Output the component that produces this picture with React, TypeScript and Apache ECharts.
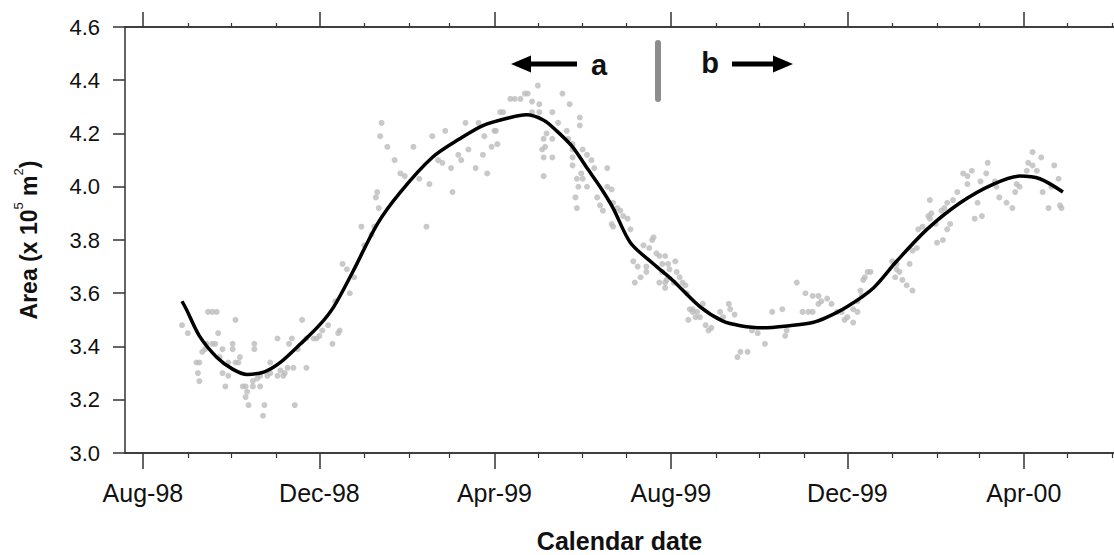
import React, { useEffect, useRef } from "react";
import * as echarts from "echarts";

// ---------- Data (x = days since 1 Aug 1998, y = area in 10^5 m^2) ----------
const majorTickLabels = ["Aug-98", "Dec-98", "Apr-99", "Aug-99", "Dec-99", "Apr-00"];
const majorTickDates = ["1998-08-01", "1998-12-01", "1999-04-01", "1999-08-01", "1999-12-01", "2000-04-01"];
const minorTickDates = [
  "1998-09-01", "1998-10-01", "1998-11-01", "1999-01-01", "1999-02-01", "1999-03-01",
  "1999-05-01", "1999-06-01", "1999-07-01", "1999-09-01", "1999-10-01", "1999-11-01",
  "2000-01-01", "2000-02-01", "2000-03-01", "2000-05-01", "2000-06-01",
];
const yTickValues = [3.0, 3.2, 3.4, 3.6, 3.8, 4.0, 4.2, 4.4, 4.6];

const scatterDays = [
  27, 31, 37, 38, 39, 39, 41, 43, 44, 45, 48, 48, 50, 51, 52, 53, 55, 55, 57, 59, 59, 62, 62, 64, 64, 66, 67, 69, 71, 71,
  72, 73, 76, 76, 77, 77, 79, 81, 81, 83, 84, 86, 88, 88, 93, 93, 95, 97, 98, 100, 101, 103, 104, 105, 107, 110, 113, 113, 118, 120,
  122, 124, 128, 131, 133, 135, 136, 138, 141, 143, 146, 151, 153, 158, 160, 161, 162, 163, 164, 165, 169, 174, 178, 181,
  187, 191, 196, 198, 200, 204, 207, 209, 213, 214, 218, 220, 223, 225, 230, 232, 235, 236, 238, 241, 243, 244, 245, 247, 249, 254,
  257, 261, 264, 266, 269, 269, 273, 274, 274, 276, 277, 277, 277, 278, 279, 283, 283, 283, 287, 290, 293, 294, 295, 297, 297, 297,
  297, 299, 300, 300, 301, 302, 302, 303, 304, 304, 307, 307, 310, 312, 314, 316, 318, 321, 321, 324, 324, 325, 325, 328, 330, 332,
  335, 337, 339, 340, 342, 344, 346, 348, 348, 350, 352, 353, 355, 357, 357, 359, 359, 361, 361, 361, 362, 363, 364, 367, 368, 369,
  371, 373, 375, 376, 377, 378, 380, 380, 382, 383, 385, 387, 389, 391, 393, 399, 401, 405, 406, 409, 411, 413, 418, 421, 425, 430,
  435, 442, 444, 445, 452, 456, 458, 460, 463, 463, 467, 467, 469, 473, 476, 480, 483, 485, 487, 491, 491, 494, 494, 496, 497, 498,
  499, 501, 503, 518, 520, 521, 521, 523, 525, 528, 530, 532, 532, 535, 536, 539, 543, 544, 544, 545, 548, 549, 552, 553, 554, 556,
  556, 558, 560, 563, 567, 570, 570, 573, 575, 577, 579, 580, 583, 584, 589, 590, 592, 597, 601, 603, 604, 606, 611, 612, 615, 615,
  618, 621, 622, 626, 628, 630, 633, 634, 635,
];
const scatterArea = [
  3.48, 3.45, 3.34, 3.30, 3.34, 3.27, 3.38, 3.39, 3.41, 3.53, 3.53, 3.41, 3.41, 3.53, 3.45, 3.36, 3.39, 3.30, 3.25, 3.34, 3.29, 3.41, 3.39, 3.50, 3.34, 3.34, 3.36, 3.25, 3.25, 3.21,
  3.23, 3.18, 3.27, 3.25, 3.41, 3.39, 3.28, 3.25, 3.29, 3.14, 3.18, 3.29, 3.30, 3.34, 3.29, 3.43, 3.31, 3.29, 3.30, 3.32, 3.41, 3.43, 3.32, 3.18, 3.39, 3.50, 3.32, 3.43, 3.43, 3.43,
  3.44, 3.46, 3.48, 3.41, 3.57, 3.45, 3.46, 3.71, 3.69, 3.60, 3.66, 3.85, 3.78, 3.82, 3.85, 3.96, 3.98, 3.92, 4.19, 4.24, 4.15, 4.10, 4.05, 4.04,
  4.15, 4.03, 3.85, 4.01, 4.19, 4.10, 4.09, 4.21, 4.07, 3.98, 4.12, 4.10, 4.24, 4.14, 4.07, 4.24, 4.12, 4.19, 4.05, 4.15, 4.21, 4.21, 4.16, 4.28, 4.28, 4.33,
  4.33, 4.33, 4.35, 4.35, 4.32, 4.28, 4.38, 4.31, 4.28, 4.14, 4.18, 4.11, 4.04, 4.15, 4.20, 4.11, 4.18, 4.28, 4.24, 4.35, 4.21, 4.18, 4.31, 4.16, 4.14, 4.11,
  4.08, 3.96, 4.03, 3.92, 4.00, 4.26, 4.23, 4.05, 4.14, 4.03, 4.12, 4.00, 4.10, 4.07, 3.96, 3.93, 3.91, 4.07, 4.00, 3.99, 3.86, 3.94, 3.85, 3.92, 3.91, 3.89,
  3.88, 3.84, 3.72, 3.64, 3.70, 3.66, 3.78, 3.68, 3.70, 3.77, 3.80, 3.81, 3.75, 3.74, 3.64, 3.68, 3.71, 3.62, 3.74, 3.64, 3.65, 3.71, 3.69, 3.64, 3.72, 3.68,
  3.66, 3.64, 3.63, 3.60, 3.50, 3.54, 3.54, 3.53, 3.51, 3.53, 3.51, 3.56, 3.48, 3.46, 3.47, 3.53, 3.51, 3.56, 3.54, 3.52, 3.36, 3.38, 3.38, 3.46, 3.45, 3.41,
  3.53, 3.54, 3.44, 3.46, 3.64, 3.53, 3.60, 3.53, 3.59, 3.53, 3.59, 3.56, 3.57, 3.58, 3.56, 3.53, 3.53, 3.50, 3.51, 3.49, 3.54, 3.57, 3.53, 3.61, 3.59, 3.65,
  3.66, 3.68, 3.68, 3.72, 3.66, 3.69, 3.71, 3.68, 3.65, 3.63, 3.71, 3.76, 3.61, 3.77, 3.84, 3.85, 3.89, 3.88, 3.95, 3.90, 3.86, 3.79, 3.91, 3.80, 3.92, 3.94,
  3.84, 3.86, 3.95, 3.98, 4.05, 4.04, 4.01, 4.06, 3.88, 3.94, 4.02, 3.89, 4.05, 4.09, 4.02, 4.00, 3.96, 3.94, 3.92, 3.98, 4.01, 4.00, 4.06, 4.09, 4.08, 4.13,
  4.06, 4.11, 3.98, 3.92, 4.00, 4.08, 4.03, 3.93, 3.92,
];

const fitDays = [
  27, 30, 39, 51, 62, 72, 84, 95, 109, 122, 132, 145, 162, 178, 200, 219, 235, 254, 265, 277, 286, 297,
  307, 316, 325, 337, 353, 366, 385, 401, 413, 428, 447, 463, 473, 487, 505, 521, 542, 565, 588, 606, 620, 636,
];
const fitArea = [
  3.57, 3.54, 3.44, 3.36, 3.315, 3.295, 3.305, 3.34, 3.41, 3.48, 3.55, 3.68, 3.86, 3.98, 4.11, 4.18, 4.23, 4.26, 4.27, 4.25, 4.21, 4.15,
  4.07, 4.00, 3.92, 3.79, 3.71, 3.65, 3.55, 3.495, 3.478, 3.47, 3.478, 3.49, 3.51, 3.55, 3.62, 3.72, 3.84, 3.94, 4.01, 4.04, 4.03, 3.98,
];

// ---------- helpers ----------
const DAY_MS = 86400000;
const BASE = Date.parse("1998-08-01");
const toDay = (s: string) => (Date.parse(s) - BASE) / DAY_MS;
const majorDays = majorTickDates.map(toDay);
const minorDays = minorTickDates.map(toDay);

const FONT = '"Liberation Sans", Arial, Helvetica, sans-serif';
const AXIS_COLOR = "#333333";
const X_MIN = -12.4;
const X_MAX = 671.3;

function labelFor(v: number): string {
  for (let i = 0; i < majorDays.length; i++) {
    if (Math.abs(majorDays[i] - v) < 0.5) return majorTickLabels[i];
  }
  return "";
}

function xAxisBase(position: "top" | "bottom") {
  return {
    type: "value" as const,
    position,
    min: X_MIN,
    max: X_MAX,
    splitLine: { show: false },
    axisLine: { show: true, onZero: false, lineStyle: { color: AXIS_COLOR, width: 1.5 } },
  };
}

export default function App() {
  const ref = useRef<HTMLDivElement>(null);

  useEffect(() => {
    if (!ref.current) return;
    const chart = echarts.init(ref.current, undefined, { renderer: "svg" });

    const option: any = {
      animation: false,
      backgroundColor: "#ffffff",
      grid: { left: 125, top: 27, right: 0, bottom: 102, containLabel: false, outerBoundsMode: "none" },
      xAxis: [
        {
          ...xAxisBase("bottom"),
          axisTick: { show: true, inside: false, length: 16, customValues: majorDays, lineStyle: { color: AXIS_COLOR, width: 1.5 } },
          axisLabel: {
            show: true,
            customValues: majorDays,
            formatter: (v: number) => labelFor(v),
            fontSize: 25,
            fontFamily: FONT,
            color: "#111",
            margin: 27,
          },
          name: "Calendar date",
          nameLocation: "middle",
          nameGap: 79,
          nameTextStyle: { fontSize: 25, fontWeight: "bold", fontFamily: FONT, color: "#111", lineHeight: 18 },
        },
        {
          ...xAxisBase("bottom"),
          axisTick: { show: true, inside: false, length: 5, customValues: minorDays, lineStyle: { color: AXIS_COLOR, width: 1.2 } },
          axisLabel: { show: false },
        },
        {
          ...xAxisBase("top"),
          axisTick: { show: true, inside: false, length: 15, customValues: majorDays, lineStyle: { color: AXIS_COLOR, width: 1.5 } },
          axisLabel: { show: false },
        },
        {
          ...xAxisBase("top"),
          axisTick: { show: true, inside: false, length: 4, customValues: minorDays, lineStyle: { color: AXIS_COLOR, width: 1.2 } },
          axisLabel: { show: false },
        },
      ],
      yAxis: {
        type: "value",
        position: "left",
        min: yTickValues[0],
        max: yTickValues[yTickValues.length - 1],
        interval: 0.2,
        splitLine: { show: false },
        axisLine: { show: true, onZero: false, lineStyle: { color: AXIS_COLOR, width: 1.5 } },
        axisTick: { show: true, inside: false, length: 12, lineStyle: { color: AXIS_COLOR, width: 1.5 } },
        axisLabel: {
          formatter: (v: number) => v.toFixed(1),
          fontSize: 22,
          fontFamily: FONT,
          color: "#111",
          margin: 25,
        },
        name: "{m|Area (x 10}{s|5}{m| m}{s|2}{m|)}",
        nameLocation: "middle",
        nameRotate: 90,
        nameGap: 79,
        nameTextStyle: {
          rich: {
            m: { fontSize: 23, fontWeight: "bold", fontFamily: FONT, color: "#111", lineHeight: 34 },
            s: { fontSize: 13, fontFamily: FONT, color: "#111", lineHeight: 12, verticalAlign: "top" },
          },
        },
      },
      series: [
        {
          name: "Observed area",
          type: "scatter",
          xAxisIndex: 0,
          yAxisIndex: 0,
          data: scatterDays.map((d, i) => [d, scatterArea[i]]),
          symbol: "circle",
          symbolSize: 6,
          itemStyle: { color: "#bcbcbc" },
          z: 2,
        },
        {
          name: "Fit",
          type: "line",
          xAxisIndex: 0,
          yAxisIndex: 0,
          data: fitDays.map((d, i) => [d, fitArea[i]]),
          smooth: 0.3,
          showSymbol: false,
          symbol: "none",
          lineStyle: { color: "#000", width: 3.5 },
          z: 3,
        },
      ],
      graphic: [
        // left arrow "a"
        { type: "polygon", shape: { points: [[511, 64], [531, 55.5], [531, 72.5]] }, style: { fill: "#000" } },
        { type: "rect", shape: { x: 528, y: 61.5, width: 49, height: 5 }, style: { fill: "#000" } },
        {
          type: "text",
          x: 599,
          y: 65,
          style: { text: "a", font: `bold 29px ${FONT}`, fill: "#111", align: "center", verticalAlign: "middle" },
        },
        // divider
        { type: "rect", shape: { x: 655, y: 40, width: 6, height: 62, r: 3 }, style: { fill: "#8c8c8c" } },
        // right arrow "b"
        {
          type: "text",
          x: 710,
          y: 63,
          style: { text: "b", font: `bold 29px ${FONT}`, fill: "#111", align: "center", verticalAlign: "middle" },
        },
        { type: "rect", shape: { x: 732, y: 61.5, width: 45, height: 5 }, style: { fill: "#000" } },
        { type: "polygon", shape: { points: [[793, 64], [773, 55.5], [773, 72.5]] }, style: { fill: "#000" } },
      ],
    };

    chart.setOption(option);
    return () => chart.dispose();
  }, []);

  return (
    <div
      ref={ref}
      style={{ position: "fixed", left: 0, top: 0, width: 1114, height: 555, background: "#fff" }}
    />
  );
}
